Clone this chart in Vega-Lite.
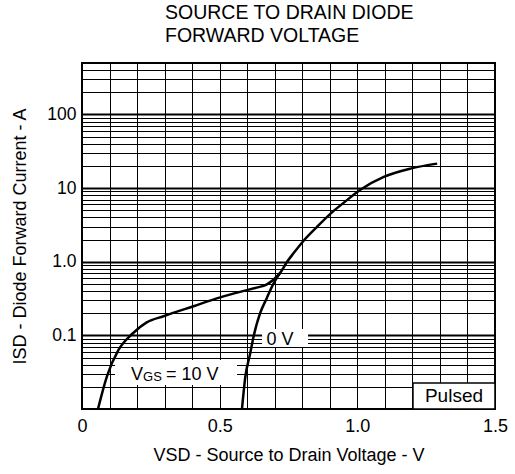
{
  "$schema": "https://vega.github.io/schema/vega-lite/v6.json",
  "width": 413,
  "height": 346,
  "autosize": "none",
  "padding": {"left": 82, "top": 63, "right": 20, "bottom": 65},
  "background": "white",
  "config": {
    "font": "Liberation Sans",
    "view": {"stroke": "black", "strokeWidth": 2}
  },
  "title": {
    "text": ["SOURCE TO DRAIN DIODE", "FORWARD VOLTAGE"],
    "anchor": "start",
    "frame": "group",
    "dx": 83,
    "offset": 8,
    "fontSize": 19.5,
    "fontWeight": "normal",
    "lineHeight": 23,
    "color": "black",
    "font": "Liberation Sans"
  },
  "datasets": {
    "curves": [
      {"series": "10 V", "v": 0.058, "i": 0.01},
      {"series": "10 V", "v": 0.09, "i": 0.0274},
      {"series": "10 V", "v": 0.132, "i": 0.063},
      {"series": "10 V", "v": 0.184, "i": 0.106},
      {"series": "10 V", "v": 0.235, "i": 0.15},
      {"series": "10 V", "v": 0.296, "i": 0.182},
      {"series": "10 V", "v": 0.405, "i": 0.249},
      {"series": "10 V", "v": 0.502, "i": 0.328},
      {"series": "10 V", "v": 0.574, "i": 0.39},
      {"series": "10 V", "v": 0.634, "i": 0.445},
      {"series": "10 V", "v": 0.67, "i": 0.49},
      {"series": "10 V", "v": 0.695, "i": 0.57},
      {"series": "10 V", "v": 0.719, "i": 0.7},
      {"series": "10 V", "v": 0.745, "i": 1.0},
      {"series": "10 V", "v": 0.768, "i": 1.3},
      {"series": "10 V", "v": 0.805, "i": 1.93},
      {"series": "10 V", "v": 0.853, "i": 2.96},
      {"series": "10 V", "v": 0.914, "i": 4.9},
      {"series": "10 V", "v": 0.95, "i": 6.3},
      {"series": "10 V", "v": 1.011, "i": 9.5},
      {"series": "10 V", "v": 1.096, "i": 14.2},
      {"series": "10 V", "v": 1.193, "i": 18.4},
      {"series": "10 V", "v": 1.29, "i": 21.5},
      {"series": "0 V", "v": 0.581, "i": 0.01},
      {"series": "0 V", "v": 0.593, "i": 0.027},
      {"series": "0 V", "v": 0.611, "i": 0.057},
      {"series": "0 V", "v": 0.623, "i": 0.096},
      {"series": "0 V", "v": 0.647, "i": 0.2},
      {"series": "0 V", "v": 0.671, "i": 0.32},
      {"series": "0 V", "v": 0.695, "i": 0.5},
      {"series": "0 V", "v": 0.719, "i": 0.7}
    ],
    "boxes": [
      {"name": "vgs", "v1": 0.12, "v2": 0.563, "i1": 0.0212, "i2": 0.0463},
      {"name": "zero", "v1": 0.654, "v2": 0.821, "i1": 0.0695, "i2": 0.122}
    ],
    "pulsed": [
      {"v1": 1.202, "v2": 1.5, "i1": 0.01, "i2": 0.0226}
    ],
    "labels": [
      {"part": "main", "text": "V", "v": 0.2216, "i": 0.029},
      {"part": "sub", "text": "GS", "v": 0.2216, "i": 0.029},
      {"part": "rest", "text": "= 10 V", "v": 0.305, "i": 0.029},
      {"part": "center", "text": "0 V", "v": 0.719, "i": 0.0865},
      {"part": "pulsed", "text": "Pulsed", "v": 1.351, "i": 0.015}
    ]
  },
  "encoding": {
    "x": {
      "type": "quantitative",
      "scale": {"domain": [0, 1.5], "nice": false, "zero": false},
      "axis": {
        "title": "VSD - Source to Drain Voltage - V",
        "values": [0, 0.1, 0.2, 0.3, 0.4, 0.5, 0.6, 0.7, 0.8, 0.9, 1, 1.1, 1.2, 1.3, 1.4, 1.5],
        "labelExpr": "datum.value == 0 ? '0' : datum.value == 0.5 ? '0.5' : datum.value == 1 ? '1.0' : datum.value == 1.5 ? '1.5' : ''",
        "grid": true,
        "gridColor": "black",
        "gridOpacity": 1,
        "gridWidth": 1,
        "ticks": false,
        "domain": false,
        "labelFontSize": 18,
        "labelColor": "black",
        "labelPadding": 8,
        "labelFlush": false,
        "labelOverlap": false,
        "titleFontSize": 18,
        "titleFontWeight": "normal",
        "titleColor": "black",
        "titlePadding": 11
      }
    },
    "y": {
      "type": "quantitative",
      "scale": {"type": "log", "domain": [0.01, 500], "nice": false},
      "axis": {
        "title": "ISD - Diode Forward Current - A",
        "values": [0.01, 0.02, 0.03, 0.04, 0.05, 0.06, 0.07, 0.08, 0.09, 0.1, 0.2, 0.3, 0.4, 0.5, 0.6, 0.7, 0.8, 0.9, 1, 2, 3, 4, 5, 6, 7, 8, 9, 10, 20, 30, 40, 50, 60, 70, 80, 90, 100, 200, 300, 400, 500],
        "labelExpr": "datum.value == 0.1 ? '0.1' : datum.value == 1 ? '1.0' : datum.value == 10 ? '10' : datum.value == 100 ? '100' : ''",
        "grid": true,
        "gridColor": "black",
        "gridOpacity": 1,
        "gridWidth": {"condition": {"test": "datum.value == 0.1 || datum.value == 1 || datum.value == 10 || datum.value == 100", "value": 2}, "value": 1},
        "ticks": false,
        "domain": false,
        "labelFontSize": 17.5,
        "labelColor": "black",
        "labelPadding": 6,
        "labelOverlap": false,
        "labelFlush": false,
        "titleFontSize": 18,
        "titleFontWeight": "normal",
        "titleColor": "black",
        "titlePadding": 17
      }
    }
  },
  "layer": [
    {
      "data": {"name": "boxes"},
      "mark": {"type": "rect", "fill": "white", "stroke": null},
      "encoding": {
        "x": {"field": "v1", "type": "quantitative"},
        "x2": {"field": "v2"},
        "y": {"field": "i1", "type": "quantitative"},
        "y2": {"field": "i2"}
      }
    },
    {
      "data": {"name": "pulsed"},
      "mark": {"type": "rect", "fill": "white", "stroke": "black", "strokeWidth": 1.5},
      "encoding": {
        "x": {"field": "v1", "type": "quantitative"},
        "x2": {"field": "v2"},
        "y": {"field": "i1", "type": "quantitative"},
        "y2": {"field": "i2"}
      }
    },
    {
      "data": {"name": "curves"},
      "mark": {"type": "line", "color": "black", "strokeWidth": 2.5, "interpolate": "monotone", "clip": true},
      "encoding": {
        "x": {"field": "v", "type": "quantitative"},
        "y": {"field": "i", "type": "quantitative"},
        "detail": {"field": "series"}
      }
    },
    {
      "data": {"name": "labels"},
      "transform": [{"filter": "datum.part == 'main'"}],
      "mark": {"type": "text", "fontSize": 18, "color": "black", "align": "right", "baseline": "middle"},
      "encoding": {
        "x": {"field": "v", "type": "quantitative"},
        "y": {"field": "i", "type": "quantitative"},
        "text": {"field": "text"}
      }
    },
    {
      "data": {"name": "labels"},
      "transform": [{"filter": "datum.part == 'sub'"}],
      "mark": {"type": "text", "fontSize": 13, "color": "black", "align": "left", "baseline": "middle", "dy": 2},
      "encoding": {
        "x": {"field": "v", "type": "quantitative"},
        "y": {"field": "i", "type": "quantitative"},
        "text": {"field": "text"}
      }
    },
    {
      "data": {"name": "labels"},
      "transform": [{"filter": "datum.part == 'rest'"}],
      "mark": {"type": "text", "fontSize": 18, "color": "black", "align": "left", "baseline": "middle"},
      "encoding": {
        "x": {"field": "v", "type": "quantitative"},
        "y": {"field": "i", "type": "quantitative"},
        "text": {"field": "text"}
      }
    },
    {
      "data": {"name": "labels"},
      "transform": [{"filter": "datum.part == 'center'"}],
      "mark": {"type": "text", "fontSize": 18, "color": "black", "align": "center", "baseline": "middle"},
      "encoding": {
        "x": {"field": "v", "type": "quantitative"},
        "y": {"field": "i", "type": "quantitative"},
        "text": {"field": "text"}
      }
    },
    {
      "data": {"name": "labels"},
      "transform": [{"filter": "datum.part == 'pulsed'"}],
      "mark": {"type": "text", "fontSize": 19, "color": "black", "align": "center", "baseline": "middle"},
      "encoding": {
        "x": {"field": "v", "type": "quantitative"},
        "y": {"field": "i", "type": "quantitative"},
        "text": {"field": "text"}
      }
    }
  ]
}
